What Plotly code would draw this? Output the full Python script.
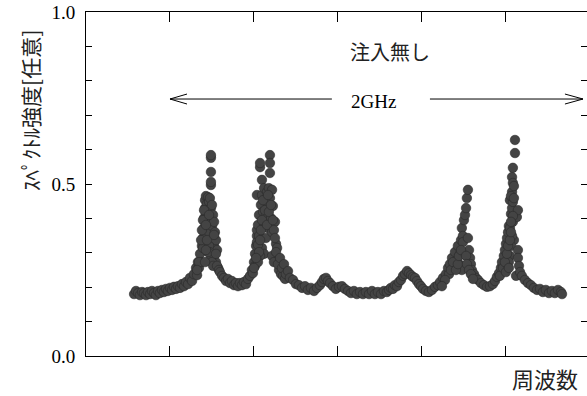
import plotly.graph_objects as go

# Measured spectrum without injection: frequency (GHz, relative) and intensity (arb. units)
freq_ghz = [
    # baseline and rising edge of the first mode
    0.229, 0.238, 0.248, 0.257, 0.267, 0.276, 0.286, 0.295, 0.305, 0.314,
    0.324, 0.333, 0.343, 0.352, 0.362, 0.371, 0.381, 0.390, 0.400, 0.410,
    0.419, 0.429, 0.438, 0.448, 0.457, 0.467, 0.476, 0.486, 0.495, 0.505,
    0.514, 0.524, 0.529, 0.533, 0.538, 0.543, 0.548, 0.552,
    # first mode
    0.557, 0.557, 0.562, 0.562, 0.567, 0.567, 0.571, 0.571, 0.576, 0.576,
    0.581, 0.581, 0.586, 0.586, 0.590, 0.590, 0.595, 0.595, 0.600, 0.600,
    0.605, 0.610, 0.610, 0.614, 0.614, 0.619, 0.619, 0.624, 0.629, 0.586,
    0.590, 0.595, 0.600, 0.605, 0.595, 0.595, 0.595, 0.595, 0.595,
    0.548, 0.552, 0.557, 0.562, 0.571, 0.576, 0.581, 0.586, 0.610, 0.619,
    0.624, 0.633, 0.538, 0.529, 0.567, 0.571,
    # valley
    0.638, 0.648, 0.657, 0.667, 0.676, 0.686, 0.695, 0.705, 0.714, 0.724,
    0.733, 0.743, 0.752, 0.762, 0.771, 0.781,
    # second mode
    0.790, 0.795, 0.800, 0.805, 0.805, 0.810, 0.814, 0.814, 0.814, 0.814,
    0.819, 0.824, 0.824, 0.829, 0.829, 0.833, 0.838, 0.838, 0.843, 0.848,
    0.848, 0.852, 0.857, 0.857, 0.862, 0.867, 0.867, 0.871, 0.876, 0.876,
    0.876, 0.876, 0.881, 0.886, 0.886, 0.890, 0.900, 0.905, 0.838, 0.848,
    0.829, 0.819,
    0.819, 0.824, 0.829, 0.833, 0.838, 0.843, 0.852, 0.862, 0.867, 0.871,
    0.881, 0.890, 0.895, 0.900, 0.910, 0.919, 0.929, 0.938, 0.948, 0.810,
    0.800,
    # falling edge and small side bump
    0.886, 0.895, 0.905, 0.914, 0.924, 0.933, 0.943, 0.952, 0.962, 0.971,
    0.986, 1.000, 1.014, 1.029, 1.043, 1.057, 1.071, 1.086, 1.100, 1.114,
    1.124, 1.133, 1.143, 1.152, 1.162, 1.176, 1.190, 1.205, 1.219, 1.233,
    1.248, 1.262,
    # flat floor and second bump
    1.276, 1.290, 1.305, 1.319, 1.333, 1.348, 1.362, 1.376, 1.390, 1.405,
    1.419, 1.433, 1.443, 1.452, 1.462, 1.471, 1.481, 1.490, 1.500, 1.510,
    1.519, 1.529, 1.538, 1.548, 1.557, 1.567, 1.576, 1.586, 1.595, 1.605,
    1.619, 1.633, 1.648, 1.662, 1.676,
    # third mode
    1.686, 1.700, 1.714, 1.724, 1.733, 1.743, 1.752, 1.757, 1.767, 1.771,
    1.781, 1.786, 1.790, 1.795, 1.800, 1.805, 1.810, 1.814, 1.819, 1.795,
    1.781, 1.790, 1.819, 1.824, 1.829, 1.833, 1.838, 1.848, 1.857, 1.867,
    1.881, 1.895, 1.910, 1.924, 1.938, 1.948,
    1.729, 1.738, 1.748, 1.762, 1.771, 1.776, 1.786, 1.810, 1.814, 1.824,
    1.833, 1.843, 1.710, 1.695,
    # fourth mode
    1.957, 1.967, 1.976, 1.981, 1.990, 1.995, 2.000, 2.005, 2.010, 2.014,
    2.019, 2.019, 2.024, 2.029, 2.029, 2.029, 2.033, 2.033, 2.033, 2.033,
    2.038, 2.043, 2.043, 2.052, 2.057, 2.024, 2.019, 2.014, 2.029, 2.048,
    2.038, 2.024,
    1.971, 1.986, 1.995, 2.005, 2.010, 2.019, 2.024, 2.000, 2.014, 2.033,
    2.024, 2.038,
    # tail
    2.057, 2.057, 2.062, 2.067, 2.076, 2.090, 2.105, 2.119, 2.133, 2.148,
    2.162, 2.176, 2.190, 2.205, 2.219, 2.233, 2.248, 2.262, 2.267,
]

intensity = [
    0.180, 0.189, 0.183, 0.177, 0.186, 0.183, 0.177, 0.186, 0.180, 0.189,
    0.183, 0.177, 0.189, 0.183, 0.192, 0.186, 0.195, 0.189, 0.198, 0.192,
    0.201, 0.195, 0.203, 0.198, 0.209, 0.203, 0.215, 0.209, 0.227, 0.218,
    0.238, 0.256, 0.235, 0.273, 0.256, 0.297, 0.273, 0.320,

    0.314, 0.343, 0.372, 0.401, 0.430, 0.453, 0.413, 0.465, 0.442, 0.384,
    0.462, 0.424, 0.448, 0.360, 0.459, 0.410, 0.430, 0.390, 0.439, 0.378,
    0.410, 0.390, 0.320, 0.360, 0.297, 0.337, 0.273, 0.308, 0.256, 0.320,
    0.302, 0.285, 0.273, 0.262, 0.497, 0.506, 0.535, 0.576, 0.584,
    0.337, 0.366, 0.395, 0.424, 0.381, 0.337, 0.302, 0.410, 0.352, 0.297,
    0.262, 0.250, 0.273, 0.250, 0.273, 0.308,

    0.244, 0.233, 0.227, 0.218, 0.224, 0.212, 0.218, 0.206, 0.212, 0.203,
    0.212, 0.206, 0.215, 0.209, 0.224, 0.233,

    0.250, 0.241, 0.273, 0.262, 0.297, 0.320, 0.349, 0.331, 0.366, 0.468,
    0.381, 0.410, 0.349, 0.549, 0.561, 0.439, 0.512, 0.468, 0.419, 0.381,
    0.488, 0.453, 0.410, 0.343, 0.477, 0.439, 0.372, 0.488, 0.584, 0.561,
    0.532, 0.459, 0.401, 0.483, 0.360, 0.436, 0.390, 0.326, 0.314, 0.297,
    0.291, 0.273,
    0.323, 0.302, 0.337, 0.366, 0.395, 0.453, 0.424, 0.381, 0.468, 0.419,
    0.439, 0.395, 0.366, 0.343, 0.314, 0.250, 0.238, 0.233, 0.224, 0.285,
    0.256,

    0.291, 0.273, 0.302, 0.267, 0.285, 0.256, 0.267, 0.238, 0.247, 0.227,
    0.221, 0.209, 0.206, 0.198, 0.203, 0.192, 0.198, 0.189, 0.198, 0.206,
    0.215, 0.224, 0.227, 0.218, 0.212, 0.203, 0.195, 0.201, 0.203, 0.195,
    0.189, 0.183,

    0.189, 0.180, 0.186, 0.180, 0.186, 0.180, 0.189, 0.180, 0.186, 0.180,
    0.189, 0.186, 0.192, 0.198, 0.195, 0.206, 0.203, 0.215, 0.221, 0.233,
    0.238, 0.247, 0.241, 0.235, 0.230, 0.227, 0.218, 0.209, 0.203, 0.195,
    0.189, 0.186, 0.192, 0.201, 0.206,

    0.215, 0.227, 0.238, 0.256, 0.267, 0.285, 0.262, 0.302, 0.279, 0.320,
    0.297, 0.337, 0.372, 0.349, 0.395, 0.410, 0.430, 0.459, 0.483, 0.331,
    0.265, 0.250, 0.343, 0.308, 0.285, 0.267, 0.250, 0.238, 0.227, 0.221,
    0.212, 0.206, 0.201, 0.203, 0.209, 0.218,
    0.238, 0.250, 0.273, 0.250, 0.267, 0.291, 0.308, 0.291, 0.267, 0.250,
    0.238, 0.224, 0.221, 0.203,

    0.230, 0.241, 0.256, 0.273, 0.291, 0.308, 0.326, 0.343, 0.360, 0.378,
    0.372, 0.453, 0.413, 0.430, 0.477, 0.520, 0.390, 0.448, 0.503, 0.547,
    0.337, 0.590, 0.628, 0.404, 0.424, 0.320, 0.291, 0.273, 0.349, 0.233,
    0.494, 0.465,
    0.233, 0.256, 0.273, 0.297, 0.320, 0.337, 0.360, 0.244, 0.256, 0.407,
    0.390, 0.459,

    0.308, 0.285, 0.262, 0.244, 0.233, 0.221, 0.212, 0.206, 0.198, 0.192,
    0.195, 0.186, 0.192, 0.183, 0.189, 0.183, 0.192, 0.186, 0.180,
]

x_ticks = [0.4, 0.8, 1.2, 1.6, 2.0]
y_ticks = [0.0, 0.5, 1.0]
y_tick_text = ["0.0", "0.5", "1.0"]
y_minor = [0.1, 0.2, 0.3, 0.4, 0.6, 0.7, 0.8, 0.9]

span_start, span_end = 0.4, 2.367   # 2 GHz span marker
span_y = 0.747

SERIF = "Liberation Serif, Times New Roman, serif"
CJK = "Noto Sans CJK JP, sans-serif"

fig = go.Figure()
fig.add_trace(go.Scatter(
    x=freq_ghz, y=intensity, mode="markers",
    marker=dict(size=9.5, color="#444444", line=dict(color="#2a2a2a", width=0.6)),
    showlegend=False, hoverinfo="skip",
))

line_style = dict(color="black", width=1)
shapes = [
    # span arrow shafts
    dict(type="line", xref="x", yref="y", x0=span_start, x1=1.171, y0=span_y, y1=span_y, line=line_style),
    dict(type="line", xref="x", yref="y", x0=1.638, x1=span_end, y0=span_y, y1=span_y, line=line_style),
    # open arrowheads
    dict(type="line", xref="x", yref="y", x0=span_start, x1=span_start + 0.081, y0=span_y, y1=span_y + 0.0145, line=line_style),
    dict(type="line", xref="x", yref="y", x0=span_start, x1=span_start + 0.081, y0=span_y, y1=span_y - 0.0145, line=line_style),
    dict(type="line", xref="x", yref="y", x0=span_end, x1=span_end - 0.086, y0=span_y, y1=span_y + 0.0145, line=line_style),
    dict(type="line", xref="x", yref="y", x0=span_end, x1=span_end - 0.086, y0=span_y, y1=span_y - 0.0145, line=line_style),
]

annotations = [
    dict(text="2GHz", x=1.367, y=0.741, xref="x", yref="y", showarrow=False,
         xanchor="center", yanchor="middle",
         font=dict(family=SERIF, size=19, color="black")),
    dict(text="注入無し", x=1.448, y=0.884, xref="x", yref="y", showarrow=False,
         xanchor="center", yanchor="middle",
         font=dict(family=CJK, size=20, color="#222222")),
    dict(text="周波数", x=0.916, y=-0.064, xref="paper", yref="paper", showarrow=False,
         xanchor="center", yanchor="middle",
         font=dict(family=CJK, size=22, color="#222222")),
    dict(text="ｽﾍﾟｸﾄﾙ強度[任意]", x=-0.112, y=0.715, xref="paper", yref="paper",
         showarrow=False, textangle=-90, xanchor="center", yanchor="middle",
         font=dict(family=CJK, size=21, color="#222222")),
]

fig.update_layout(
    width=587, height=396,
    margin=dict(l=86, r=0, t=12, b=40),
    paper_bgcolor="white", plot_bgcolor="white",
    shapes=shapes, annotations=annotations,
    xaxis=dict(
        range=[0, 2.386], showline=True, linecolor="black", linewidth=1, mirror="ticks",
        ticks="inside", tickvals=x_ticks, ticklen=10, tickcolor="black", tickwidth=1,
        showticklabels=False, showgrid=False, zeroline=False,
    ),
    yaxis=dict(
        range=[0, 1], showline=True, linecolor="black", linewidth=1, mirror="ticks",
        ticks="inside", tickvals=y_ticks, ticktext=y_tick_text, ticklen=6,
        tickcolor="black", tickwidth=1, showgrid=False, zeroline=False,
        tickfont=dict(family=SERIF, size=19, color="black"), ticklabelstandoff=6,
        minor=dict(tickvals=y_minor, ticks="inside", ticklen=6, tickcolor="black",
                   tickwidth=1, showgrid=False),
    ),
)

fig.write_html("out.html")
